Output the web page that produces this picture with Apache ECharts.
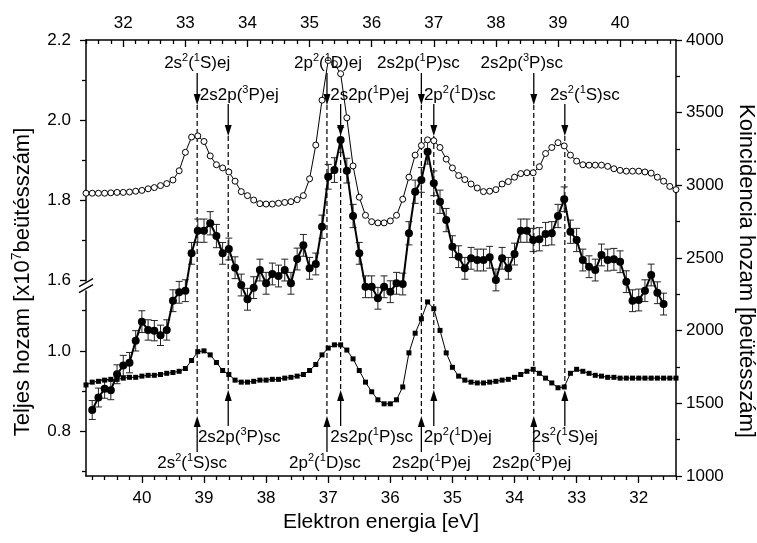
<!DOCTYPE html>
<html>
<head>
<meta charset="utf-8">
<script src="https://cdn.jsdelivr.net/npm/echarts@6.0.0/dist/echarts.min.js"></script>
<style>
  html, body { margin: 0; padding: 0; background: #fff; }
  #chart { width: 757px; height: 543px; }
</style>
</head>
<body>
<div id="chart"></div>
<script>
// elektron energia [eV], 0.1 eV lépés
var energies = [40.9, 40.8, 40.7, 40.6, 40.5, 40.4, 40.3, 40.2, 40.1, 40.0,
  39.9, 39.8, 39.7, 39.6, 39.5, 39.4, 39.3, 39.2, 39.1, 39.0,
  38.9, 38.8, 38.7, 38.6, 38.5, 38.4, 38.3, 38.2, 38.1, 38.0,
  37.9, 37.8, 37.7, 37.6, 37.5, 37.4, 37.3, 37.2, 37.1, 37.0,
  36.9, 36.8, 36.7, 36.6, 36.5, 36.4, 36.3, 36.2, 36.1, 36.0,
  35.9, 35.8, 35.7, 35.6, 35.5, 35.4, 35.3, 35.2, 35.1, 35.0,
  34.9, 34.8, 34.7, 34.6, 34.5, 34.4, 34.3, 34.2, 34.1, 34.0,
  33.9, 33.8, 33.7, 33.6, 33.5, 33.4, 33.3, 33.2, 33.1, 33.0,
  32.9, 32.8, 32.7, 32.6, 32.5, 32.4, 32.3, 32.2, 32.1, 32.0,
  31.9, 31.8, 31.7, 31.6, 31.5, 31.4];

// teljes hozam, üres körök (x10^7)
var totalOpen = [1.818, 1.818, 1.818, 1.818, 1.819, 1.820, 1.820, 1.821, 1.823, 1.825,
  1.829, 1.832, 1.837, 1.842, 1.851, 1.874, 1.920, 1.958, 1.961, 1.947,
  1.911, 1.889, 1.881, 1.871, 1.848, 1.822, 1.812, 1.801, 1.792, 1.791,
  1.791, 1.793, 1.795, 1.797, 1.802, 1.812, 1.854, 1.938, 2.050, 2.149,
  2.141, 2.116, 2.006, 1.886, 1.808, 1.763, 1.747, 1.744, 1.744, 1.749,
  1.763, 1.803, 1.858, 1.913, 1.937, 1.951, 1.949, 1.932, 1.903, 1.881,
  1.862, 1.852, 1.841, 1.831, 1.822, 1.823, 1.827, 1.841, 1.847, 1.858,
  1.867, 1.869, 1.869, 1.884, 1.917, 1.932, 1.944, 1.936, 1.913, 1.898,
  1.889, 1.888, 1.888, 1.888, 1.885, 1.879, 1.875, 1.873, 1.873, 1.873,
  1.871, 1.868, 1.858, 1.848, 1.835, 1.827];

// teljes hozam, négyzetek (x10^7)
var totalSquare = [0.915, 0.922, 0.924, 0.927, 0.929, 0.929, 0.932, 0.934, 0.934, 0.937,
  0.939, 0.939, 0.941, 0.944, 0.946, 0.949, 0.956, 0.976, 0.998, 1.000,
  0.990, 0.971, 0.951, 0.941, 0.927, 0.922, 0.922, 0.924, 0.927, 0.927,
  0.929, 0.929, 0.932, 0.934, 0.937, 0.941, 0.951, 0.966, 0.990, 1.007,
  1.015, 1.015, 1.002, 0.980, 0.951, 0.922, 0.898, 0.878, 0.868, 0.868,
  0.878, 0.910, 0.995, 1.044, 1.080, 1.122, 1.105, 1.051, 0.995, 0.959,
  0.937, 0.927, 0.922, 0.920, 0.920, 0.922, 0.924, 0.927, 0.929, 0.934,
  0.941, 0.949, 0.954, 0.944, 0.932, 0.920, 0.908, 0.910, 0.944, 0.954,
  0.949, 0.944, 0.939, 0.937, 0.934, 0.934, 0.932, 0.932, 0.932, 0.932,
  0.932, 0.932, 0.932, 0.932, 0.932, 0.932];

// koincidencia hozam [beütésszám]
var coinc = [null, 1454, 1540, 1600, 1590, 1700, 1760, 1780, 1930, 2062,
  2005, 2000, 1968, 2005, 2206, 2264, 2275, 2532, 2688, 2688,
  2739, 2651, 2532, 2562, 2433, 2314, 2216, 2296, 2417, 2326,
  2390, 2376, 2417, 2326, 2493, 2587, 2429, 2459, 2715, 3059,
  3105, 3312, 3101, 2789, 2532, 2302, 2302, 2223, 2302, 2268,
  2326, 2321, 2670, 2956, 3037, 3231, 3014, 2887, 2761, 2578,
  2509, 2429, 2498, 2486, 2486, 2505, 2349, 2498, 2429, 2527,
  2688, 2688, 2624, 2629, 2665, 2670, 2789, 2904, 2681, 2624,
  2486, 2440, 2417, 2521, 2486, 2491, 2474, 2337, 2206, 2211,
  2275, 2383, 2261, 2183, null, null];

var coincErr = [null, 65, 65, 65, 65, 65, 70, 70, 70, 75,
  70, 70, 70, 70, 75, 75, 75, 75, 80, 80,
  80, 80, 75, 75, 75, 75, 75, 75, 75, 75,
  75, 75, 75, 75, 75, 75, 75, 75, 80, 85,
  85, 85, 85, 80, 75, 75, 75, 75, 75, 75,
  75, 75, 80, 80, 85, 85, 85, 80, 80, 75,
  75, 75, 75, 75, 75, 75, 75, 75, 75, 75,
  80, 80, 80, 80, 80, 80, 80, 85, 80, 80,
  75, 75, 75, 75, 75, 75, 75, 75, 75, 75,
  75, 75, 75, 75, null, null];

// rezonanciák helye (szaggatott vonalak) és feliratok
var lineEnergies = [39.11, 38.61, 37.02, 36.80, 35.50, 35.30, 33.69, 33.19];
var topLabels = ['2s{s|2}({s|1}S)ej', '2s2p({s|3}P)ej', '2p{s|2}({s|1}D)ej', '2s2p({s|1}P)ej',
  '2s2p({s|1}P)sc', '2p{s|2}({s|1}D)sc', '2s2p({s|3}P)sc', '2s{s|2}({s|1}S)sc'];
var bottomLabels = ['2s{s|2}({s|1}S)sc', '2s2p({s|3}P)sc', '2p{s|2}({s|1}D)sc', '2s2p({s|1}P)sc',
  '2s2p({s|1}P)ej', '2p{s|2}({s|1}D)ej', '2s2p({s|3}P)ej', '2s{s|2}({s|1}S)ej'];

var xMajor = [32, 33, 34, 35, 36, 37, 38, 39, 40];
var leftMajor = [0.8, 1.0, 1.6, 1.8, 2.0, 2.2];
var leftMinor = [0.7, 0.9, 1.1, 1.7, 1.9, 2.1];

// ---- layout ----
var FONT = '"Liberation Sans", Arial, Helvetica, sans-serif';
var topRow = [1, 2, 1, 2, 1, 2, 1, 2];
var topShift = [0, 11, 1, 29, -3, 26, -12, 20];
var botShift = [-5, 11, -2, 31, 10, 24, -2, 0];

var xMinor = [];
for (var t = 31.4; t < 40.95; t += 0.2) {
  var r = Math.round(t * 10) / 10;
  if (Math.abs(r - Math.round(r)) > 0.01) xMinor.push(r);
}

function pairs(vals, errs) {
  var out = [];
  for (var i = 0; i < energies.length; i++) {
    if (vals[i] == null) continue;
    out.push(errs ? [energies[i], vals[i], errs[i]] : [energies[i], vals[i]]);
  }
  return out;
}

var axisLineStyle = { color: '#000', width: 1.5 };
var labelStyle = { color: '#000', fontSize: 17, fontFamily: FONT };
var leftBreaks = [{ start: 1.15, end: 1.6, gap: '2.3%' }];

function xAxisDef(pos, inverse, major) {
  return {
    type: 'value', min: 31.4, max: 40.9, inverse: inverse, position: pos,
    axisLine: { show: major, lineStyle: axisLineStyle },
    axisTick: { show: true, inside: pos === 'top', length: major ? 7 : 4,
      customValues: major ? xMajor : xMinor, lineStyle: { color: '#000', width: 1.3 } },
    axisLabel: major ? Object.assign({ customValues: xMajor, margin: 14 }, labelStyle) : { show: false },
    splitLine: { show: false }
  };
}

var chart = echarts.init(document.getElementById('chart'));

var xAxes = [xAxisDef('bottom', true, true), xAxisDef('bottom', true, false),
  xAxisDef('top', false, true), xAxisDef('top', false, false)];
xAxes[0].name = 'Elektron energia [eV]';
xAxes[0].nameLocation = 'middle';
xAxes[0].nameGap = 36;
xAxes[0].nameTextStyle = { color: '#000', fontSize: 21, fontFamily: FONT };
xAxes[2].axisLabel.margin = 8;

var option = {
  animation: false,
  backgroundColor: '#fff',
  grid: { left: 86, right: 81, top: 40, bottom: 67, outerBoundsMode: 'none' },
  xAxis: xAxes,
  yAxis: [
    {
      type: 'value', min: 0.688, max: 2.2, position: 'left',
      breaks: leftBreaks, breakArea: { show: false },
      axisLine: { show: true, lineStyle: axisLineStyle },
      axisTick: { show: true, length: 6, customValues: leftMajor, lineStyle: { color: '#000', width: 1.3 } },
      axisLabel: Object.assign({ customValues: leftMajor, margin: 15,
        formatter: function (v) { return v.toFixed(1); } }, labelStyle),
      splitLine: { show: false },
      name: 'Teljes hozam [x10{s|7}beütésszám]', nameLocation: 'middle', nameGap: 50,
      nameTextStyle: { color: '#000', fontSize: 22, fontFamily: FONT, padding: [0, 48, 0, 0],
        rich: { s: { fontSize: 14, fontFamily: FONT, color: '#000', padding: [0, 0, 12, 0] } } }
    },
    {
      type: 'value', min: 0.688, max: 2.2, position: 'left',
      breaks: leftBreaks, breakArea: { show: false },
      axisLine: { show: false },
      axisTick: { show: true, length: 4, customValues: leftMinor, lineStyle: { color: '#000', width: 1.3 } },
      axisLabel: { show: false }, splitLine: { show: false }
    },
    {
      type: 'value', min: 1000, max: 4000, interval: 500, position: 'right',
      axisLine: { show: true, lineStyle: axisLineStyle },
      axisTick: { show: true, length: 6, lineStyle: { color: '#000', width: 1.3 } },
      minorTick: { show: true, splitNumber: 2, length: 4, lineStyle: { color: '#000', width: 1.3 } },
      axisLabel: Object.assign({ margin: 10, formatter: function (v) { return String(v); } }, labelStyle),
      splitLine: { show: false },
      name: 'Koincidencia hozam [beütésszám]', nameLocation: 'middle', nameGap: 50, nameRotate: -90,
      nameTextStyle: { color: '#000', fontSize: 22, fontFamily: FONT, padding: [0, 0, 0, 26] }
    }
  ],
  series: [
    {
      type: 'line', name: 'open', xAxisIndex: 0, yAxisIndex: 0,
      data: pairs(totalOpen), symbol: 'circle', symbolSize: 6, showAllSymbol: true,
      lineStyle: { color: '#000', width: 1 },
      itemStyle: { color: '#fff', borderColor: '#000', borderWidth: 1 }, z: 3
    },
    {
      type: 'line', name: 'square', xAxisIndex: 0, yAxisIndex: 0,
      data: pairs(totalSquare), symbol: 'rect', symbolSize: 5, showAllSymbol: true,
      lineStyle: { color: '#000', width: 1 },
      itemStyle: { color: '#000' }, z: 3
    },
    {
      type: 'custom', name: 'err', xAxisIndex: 0, yAxisIndex: 2,
      data: pairs(coinc, coincErr), encode: { x: 0, y: 1 }, z: 2,
      renderItem: function (params, api) {
        var x = api.value(0), y = api.value(1), e = api.value(2);
        var a = api.coord([x, y + e]), b = api.coord([x, y - e]);
        var w = 3.5, st = { stroke: '#222', lineWidth: 1 };
        return { type: 'group', children: [
          { type: 'line', shape: { x1: a[0], y1: a[1], x2: b[0], y2: b[1] }, style: st },
          { type: 'line', shape: { x1: a[0] - w, y1: a[1], x2: a[0] + w, y2: a[1] }, style: st },
          { type: 'line', shape: { x1: b[0] - w, y1: b[1], x2: b[0] + w, y2: b[1] }, style: st }
        ] };
      }
    },
    {
      type: 'line', name: 'coinc', xAxisIndex: 0, yAxisIndex: 2,
      data: pairs(coinc), symbol: 'circle', symbolSize: 8, showAllSymbol: true,
      lineStyle: { color: '#000', width: 2 },
      itemStyle: { color: '#000' }, z: 4
    }
  ]
};
chart.setOption(option);

// feliratok, nyilak, szaggatott vonalak
var rich = { s: { fontSize: 11, fontFamily: FONT, fill: '#000', padding: [0, 0, 10, 0] } };
var topTextY = { 1: 63, 2: 95 }, topTip = { 1: 105, 2: 136 }, topTail = { 1: 73, 2: 104 };
var botTextY = { 1: 463, 2: 437 }, botTip = { 1: 416, 2: 390 }, botTail = { 1: 452, 2: 426 };
var g = [];
function arrow(x, y1, y2) {
  var dir = y2 > y1 ? 1 : -1;
  g.push({ type: 'line', shape: { x1: x, y1: y1, x2: x, y2: y2 - dir * 8 }, style: { stroke: '#000', lineWidth: 1.3 }, z: 10 });
  g.push({ type: 'polygon', shape: { points: [[x - 3.5, y2 - dir * 11], [x + 3.5, y2 - dir * 11], [x, y2]] },
    style: { fill: '#000' }, z: 10 });
}
for (var i = 0; i < lineEnergies.length; i++) {
  var px = chart.convertToPixel({ xAxisIndex: 0 }, lineEnergies[i]);
  var tr = topRow[i];
  g.push({ type: 'text', x: px + topShift[i], y: topTextY[tr], z: 10,
    style: { text: topLabels[i], rich: rich, fontSize: 17, fontFamily: FONT, fill: '#000', align: 'center', verticalAlign: 'middle' } });
  g.push({ type: 'text', x: px + botShift[i], y: botTextY[tr], z: 10,
    style: { text: bottomLabels[i], rich: rich, fontSize: 17, fontFamily: FONT, fill: '#000', align: 'center', verticalAlign: 'middle' } });
  arrow(px, topTail[tr], topTip[tr]);
  arrow(px, botTail[tr], botTip[tr]);
  g.push({ type: 'line', shape: { x1: px, y1: topTip[tr], x2: px, y2: botTip[tr] },
    style: { stroke: '#000', lineWidth: 1.2, lineDash: [5, 3] }, z: 1 });
}
// tengelytörés jele
var yb1 = chart.convertToPixel({ yAxisIndex: 0 }, 1.6);
var yb2 = chart.convertToPixel({ yAxisIndex: 0 }, 1.15);
var ym = (yb1 + yb2) / 2;
g.push({ type: 'polygon', shape: { points: [[79, ym + 1], [93, ym - 7], [93, ym - 1], [79, ym + 7]] }, style: { fill: '#fff' }, z: 20 });
g.push({ type: 'line', shape: { x1: 79, y1: ym + 1, x2: 93, y2: ym - 7 }, style: { stroke: '#000', lineWidth: 1.3 }, z: 21 });
g.push({ type: 'line', shape: { x1: 79, y1: ym + 7, x2: 93, y2: ym - 1 }, style: { stroke: '#000', lineWidth: 1.3 }, z: 21 });
chart.setOption({ graphic: g });
</script>
</body>
</html>
